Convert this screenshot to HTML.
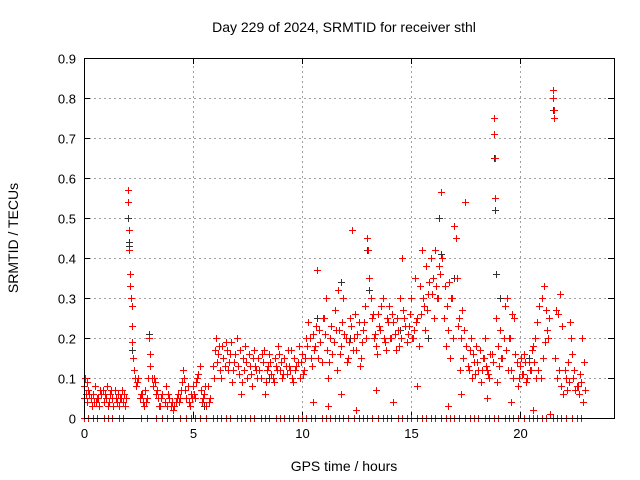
<!DOCTYPE html>
<html><head><meta charset="utf-8">
<style>
body{margin:0;background:#fff;}
svg{display:block;font-family:"Liberation Sans",sans-serif;}
</style></head>
<body>
<svg id="chart" width="640" height="480" viewBox="0 0 640 480">
<rect width="640" height="480" fill="#fff"/>
<text x="344" y="32" font-size="14" text-anchor="middle">Day 229 of 2024, SRMTID for receiver sthl</text>
<text x="18" y="238" font-size="14" text-anchor="middle" transform="rotate(-90 18 238)">SRMTID / TECUs</text>
<text x="344" y="471" font-size="14" text-anchor="middle">GPS time / hours</text>
<g id="grid"></g>
<g id="ticks"></g>
<g id="marks"></g>
<rect x="84.5" y="58.5" width="530" height="360" fill="none" stroke="#000" stroke-width="1"/>
</svg>
<script>
const xTicks=[0,5,10,15,20];
const yTicks=[0,0.1,0.2,0.3,0.4,0.5,0.6,0.7,0.8,0.9];
const yTickLabels=["0","0.1","0.2","0.3","0.4","0.5","0.6","0.7","0.8","0.9"];
const redT=[0.0,0.05,0.1,0.15,0.2,0.3,0.35,0.4,0.5,0.55,0.6,0.7,0.75,0.8,0.9,1.0,1.05,1.1,1.2,1.3,1.4,1.5,1.55,1.6,1.7,1.8,1.85,1.9,1.95,2.0,2.02,2.05,2.07,2.1,2.12,2.15,2.18,2.2,2.22,2.25,2.3,2.35,2.4,2.5,2.6,2.7,2.75,2.8,2.9,2.95,3.0,3.02,3.05,3.1,3.15,3.2,3.3,3.4,3.5,3.6,3.7,3.8,3.9,4.0,4.1,4.2,4.3,4.4,4.5,4.55,4.6,4.65,4.7,4.8,4.9,5.0,5.1,5.2,5.3,5.35,5.4,5.5,5.6,5.7,5.8,5.9,6.0,6.05,6.1,6.2,6.3,6.4,6.5,6.6,6.7,6.8,6.9,7.0,7.1,7.2,7.3,7.4,7.5,7.6,7.7,7.8,7.9,8.0,8.1,8.2,8.3,8.4,8.5,8.6,8.7,8.8,8.9,9.0,9.1,9.2,9.3,9.4,9.5,9.6,9.7,9.8,9.9,10.0,10.1,10.2,10.3,10.4,10.5,10.6,10.7,10.8,10.9,11.0,11.1,11.2,11.3,11.4,11.5,11.6,11.7,11.8,11.9,12.0,12.1,12.2,12.3,12.4,12.5,12.6,12.7,12.8,12.9,13.0,13.05,13.1,13.15,13.2,13.3,13.4,13.5,13.6,13.7,13.8,13.9,14.0,14.1,14.2,14.3,14.4,14.5,14.6,14.7,14.8,14.9,15.0,15.1,15.2,15.3,15.4,15.5,15.6,15.7,15.8,15.9,16.0,16.1,16.2,16.3,16.4,16.5,16.6,16.7,16.8,16.9,17.0,17.05,17.1,17.2,17.3,17.4,17.5,17.6,17.7,17.8,17.9,18.0,18.1,18.2,18.3,18.4,18.5,18.6,18.7,18.8,18.82,18.85,18.88,18.9,19.0,19.1,19.2,19.3,19.4,19.5,19.6,19.7,19.8,19.9,20.0,20.1,20.2,20.3,20.4,20.5,20.6,20.7,20.8,20.9,21.0,21.1,21.2,21.3,21.5,21.52,21.55,21.58,21.6,21.7,21.8,21.9,22.0,22.1,22.2,22.3,22.35,22.4,22.5,22.6,22.7,22.8,22.9,23.0,
10.5,11.2,11.8,12.5,13.4,14.2,15.3,16.7,17.3,18.5,19.6,20.6,21.4];
const redV=[.08,.1,.06,.04,.07,.05,.03,.06,.08,.04,.05,.03,.07,.06,.04,.05,.08,.03,.06,.05,.07,.04,.06,.03,.05,.04,.06,.03,.05,.57,.54,.47,.42,.36,.33,.3,.28,.23,.19,.15,.12,.1,.08,.1,.06,.04,.03,.07,.05,.1,.2,.16,.13,.1,.08,.1,.06,.05,.03,.06,.04,.03,.05,.03,.02,.04,.06,.05,.09,.12,.1,.07,.05,.04,.06,.08,.05,.1,.13,.07,.04,.06,.03,.08,.05,.13,.17,.2,.14,.18,.1,.15,.19,.12,.16,.09,.14,.2,.11,.06,.15,.18,.1,.13,.08,.17,.12,.15,.1,.14,.06,.12,.16,.11,.09,.13,.18,.12,.1,.15,.11,.13,.17,.09,.12,.14,.1,.16,.12,.2,.24,.15,.21,.18,.37,.22,.14,.25,.3,.1,.2,.16,.27,.12,.22,.18,.3,.2,.15,.25,.47,.2,.17,.24,.15,.22,.28,.45,.42,.35,.3,.25,.2,.18,.26,.22,.3,.19,.25,.28,.2,.24,.17,.22,.3,.4,.25,.19,.23,.3,.2,.35,.25,.33,.42,.28,.38,.31,.4,.35,.42,.3,.38,.565,.25,.18,.22,.15,.3,.48,.45,.35,.25,.2,.15,.54,.13,.17,.1,.14,.18,.12,.09,.15,.2,.12,.1,.16,.75,.71,.65,.55,.25,.18,.22,.15,.28,.3,.2,.12,.1,.16,.08,.13,.11,.16,.09,.14,.12,.18,.2,.24,.28,.3,.33,.27,.2,.82,.8,.77,.75,.15,.1,.12,.08,.06,.1,.14,.24,.2,.16,.12,.08,.06,.09,.04,.07,
.04,.03,.06,.02,.07,.04,.08,.03,.06,.05,.04,.02,.01];
const redT2=[0.02,0.12,0.25,0.45,0.65,0.85,0.95,1.15,1.25,1.35,1.45,1.65,1.75,2.45,2.55,2.65,2.85,3.25,3.35,3.45,3.55,3.75,3.85,4.05,4.15,4.25,4.35,4.45,4.75,4.85,4.95,5.05,5.15,5.25,5.45,5.55,5.75,5.95,6.15,6.25,6.35,6.45,6.55,6.65,6.75,6.85,6.95,7.05,7.15,7.25,7.35,7.45,7.55,7.65,7.75,7.85,7.95,8.05,8.15,8.25,8.35,8.45,8.55,8.65,8.75,8.85,8.95,9.05,9.15,9.25,9.35,9.45,9.55,9.65,9.75,9.85,9.95,10.05,10.15,10.25,10.35,10.45,10.55,10.65,10.75,10.85,10.95,11.05,11.15,11.25,11.35,11.45,11.55,11.65,11.75,11.85,11.95,12.05,12.15,12.25,12.35,12.45,12.55,12.65,12.75,12.85,12.95,13.25,13.35,13.45,13.55,13.65,13.75,13.85,13.95,14.05,14.15,14.25,14.35,14.45,14.55,14.65,14.75,14.85,14.95,15.05,15.15,15.25,15.35,15.45,15.55,15.65,15.75,15.85,15.95,16.05,16.15,16.25,16.35,16.45,16.55,16.65,16.75,16.85,16.95,17.15,17.25,17.35,17.45,17.55,17.65,17.75,17.85,17.95,18.05,18.15,18.25,18.35,18.45,18.55,18.65,18.75,18.95,19.05,19.15,19.25,19.35,19.45,19.55,19.65,19.75,19.85,19.95,20.05,20.15,20.25,20.35,20.45,20.55,20.65,20.75,20.85,20.95,21.05,21.15,21.25,21.35,21.65,21.75,21.85,21.95,22.05,22.15,22.25,22.45,22.55,22.65,22.75,22.85,22.95];
const redV2=[.05,.09,.06,.04,.05,.07,.06,.04,.07,.03,.05,.05,.07,.09,.05,.06,.04,.09,.07,.03,.05,.08,.06,.04,.03,.05,.04,.07,.08,.03,.05,.06,.09,.11,.05,.08,.04,.1,.16,.12,.18,.13,.17,.14,.19,.12,.16,.13,.17,.09,.12,.14,.16,.11,.15,.13,.1,.12,.16,.17,.09,.13,.14,.1,.15,.12,.16,.14,.11,.13,.17,.12,.1,.15,.13,.18,.14,.11,.15,.18,.2,.13,.17,.23,.15,.19,.25,.21,.17,.14,.23,.19,.22,.32,.16,.24,.21,.14,.19,.23,.17,.26,.21,.13,.19,.24,.2,.26,.21,.16,.23,.28,.2,.17,.24,.2,.26,.21,.25,.18,.2,.27,.23,.21,.26,.2,.22,.24,.18,.26,.3,.22,.27,.34,.31,.25,.33,.3,.36,.4,.33,.28,.34,.3,.2,.23,.12,.27,.22,.18,.12,.2,.16,.11,.14,.17,.12,.15,.13,.11,.16,.14,.09,.13,.15,.2,.17,.12,.2,.26,.25,.14,.1,.15,.11,.14,.1,.12,.17,.14,.1,.12,.1,.15,.19,.22,.25,.27,.26,.31,.23,.12,.07,.09,.1,.07,.08,.11,.2,.14,.09,.07,.05,.05];
const zeroT=[0,0.2,0.4,0.6,0.9,1.1,1.3,1.6,1.8,2.6,2.9,3.3,3.6,3.8,4.1,4.4,4.7,4.9,5.1,5.3,5.6,5.9,6.1,6.3,6.5,6.7,7.0,7.2,7.4,7.6,7.8,8.1,8.3,8.5,8.8,9.0,9.2,9.4,9.6,9.8,10.0,10.2,10.4,10.6,10.9,11.1,11.3,11.5,11.7,11.9,12.1,12.4,12.6,12.8,13.0,13.2,13.5,13.7,13.9,14.1,14.4,14.6,14.8,15.0,15.3,15.5,15.7,15.9,16.1,16.4,16.6,16.8,17.0,17.2,17.5,17.7,17.9,18.1,18.4,18.6,18.8,19.0,19.3,19.5,19.7,19.9,20.2,20.4,20.6,20.8,21.0,21.2,21.5,21.7,21.9,22.1,22.4,22.6,22.8];
const blackT=[2.0,2.05,2.08,2.2,3.0,5.5,8.5,10.7,11.8,12.2,13.0,13.1,14.5,15.8,16.3,16.4,17.0,18.8,18.85,18.9,19.1,20.4,21.5];
const blackV=[.5,.44,.43,.17,.21,.03,.1,.25,.34,.2,.42,.32,.22,.2,.5,.41,.35,.65,.52,.36,.3,.15,.77];

const X0=84,X1=614,Y0=418,Y1=58,XMAX=24.32,YMAX=0.9;
const sx=t=>X0+(X1-X0)*t/XMAX;
const sy=v=>Y0-(Y0-Y1)*v/YMAX;
const NS="http://www.w3.org/2000/svg";
const grid=document.getElementById('grid'),ticks=document.getElementById('ticks'),marks=document.getElementById('marks');
function mk(tag,attrs,parent){const e=document.createElementNS(NS,tag);for(const k in attrs)e.setAttribute(k,attrs[k]);parent.appendChild(e);return e;}
yTicks.forEach((v,i)=>{
  const y=Math.round(sy(v))+0.5;
  if(i>0&&i<yTicks.length-1){const g=mk('line',{x1:X0,x2:X1,y1:y,y2:y,stroke:'#a0a0a0','stroke-dasharray':'2,3','stroke-width':1},grid);
  
  }
  mk('line',{x1:X0,x2:X0+6,y1:y,y2:y,stroke:'#000'},ticks);
  mk('line',{x1:X1,x2:X1-6,y1:y,y2:y,stroke:'#000'},ticks);
  const t=mk('text',{x:X0-8,y:y+5,'font-size':13,'text-anchor':'end'},ticks);
  t.textContent=yTickLabels[i];
  
  
});
xTicks.forEach(v=>{
  const x=Math.round(sx(v))+0.5;
  if(v>0){const g=mk('line',{x1:x,x2:x,y1:Y0,y2:Y1,stroke:'#a0a0a0','stroke-dasharray':'2,3','stroke-width':1},grid);
  
  }
  mk('line',{x1:x,x2:x,y1:Y0,y2:Y0-6,stroke:'#000'},ticks);
  mk('line',{x1:x,x2:x,y1:Y1,y2:Y1+6,stroke:'#000'},ticks);
  const t=mk('text',{x:x,y:Y0+20,'font-size':13,'text-anchor':'middle'},ticks);
  t.textContent=String(v);
  
  
});
function plus(t,v,color,name){
  const x=Math.round(sx(t))+0.5,y=Math.round(sy(v))+0.5;
  const p=mk('path',{d:`M${x-3.5},${y}h7M${x},${y-3.5}v7`,stroke:color,'stroke-width':1,fill:'none','shape-rendering':'crispEdges'},marks);
  
  
}
blackT.forEach((t,i)=>plus(t,blackV[i],'#333','point-black'));
redT.forEach((t,i)=>plus(t,redV[i],'#ff0000','point-red'));
redT2.forEach((t,i)=>plus(t,redV2[i],'#ff0000','point-red'));
zeroT.forEach(t=>plus(t,0,'#ff0000','point-zero'));
</script>
</body></html>
